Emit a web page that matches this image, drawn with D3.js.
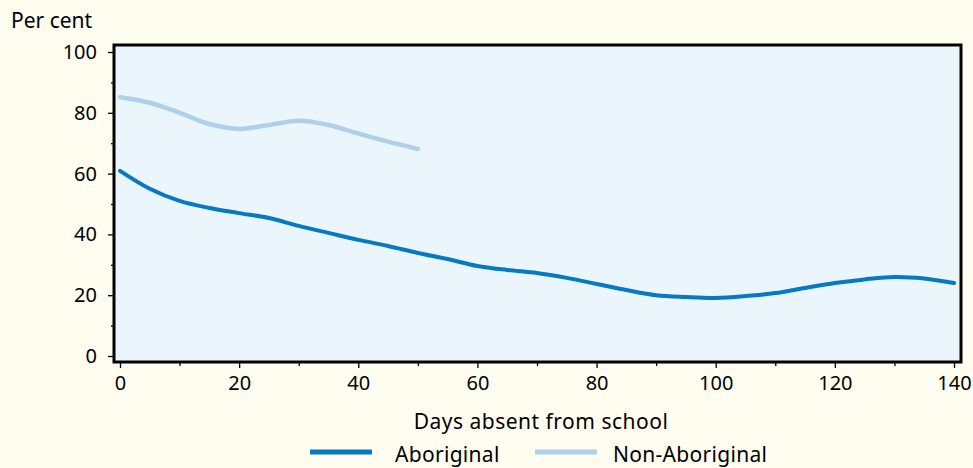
<!DOCTYPE html>
<html><head><meta charset="utf-8">
<script src="https://cdn.jsdelivr.net/npm/d3@7/dist/d3.min.js"></script>
<style>html,body{margin:0;padding:0;background:#FEFDF0;}svg{display:block;font-family:"Noto Sans",sans-serif;}</style>
</head><body>
<svg id="c" width="973" height="468"></svg>
<script>
const days = [0,5,10,15,20,25,30,35,40,45,50,55,60,65,70,75,80,85,90,95,100,105,110,115,120,125,130,135,140];
const aboriginal = [60.9,55,51,48.7,47,45.4,42.8,40.5,38.2,36.2,33.9,31.9,29.6,28.3,27.3,25.7,23.7,21.7,20,19.4,19.1,19.7,20.7,22.4,24,25.2,26,25.5,24];
const nonDays = [0,5,10,15,20,25,30,35,40,45,50];
const nonAboriginal = [85.1,83.3,80,76.3,74.7,76,77.4,76,73.2,70.5,68.1];
const xTicks = [0,20,40,60,80,100,120,140];
const yTicks = [0,20,40,60,80,100];
const series = ["Aboriginal","Non-Aboriginal"];
const colors = ["#0579C1","#B0D0EA"];

const svg = d3.select("#c");
const x = d3.scaleLinear().domain([0,140]).range([120,954]);
const y = d3.scaleLinear().domain([0,100]).range([356,52]);
const L=114,R=961,T=45,B=362;

svg.append("rect").attr("x",L).attr("y",T).attr("width",R-L).attr("height",B-T).attr("fill","#EAF5FC");

svg.append("g").attr("transform",`translate(${L},0)`)
  .call(d3.axisLeft(y).tickValues(yTicks).tickSize(6).tickPadding(11));
svg.append("g").attr("transform",`translate(${L},0)`)
  .call(d3.axisLeft(y).tickValues(d3.range(10,100,20)).tickSize(3).tickFormat(""));
svg.append("g").attr("transform",`translate(0,${B})`)
  .call(d3.axisBottom(x).tickValues(xTicks).tickSize(6).tickPadding(8));
svg.append("g").attr("transform",`translate(0,${B})`)
  .call(d3.axisBottom(x).tickValues(d3.range(10,140,20)).tickSize(4).tickFormat(""));
svg.selectAll(".domain").remove();
svg.selectAll(".tick line").attr("stroke","#000").attr("stroke-width",1.3);
svg.selectAll(".tick text").attr("font-size",20).attr("fill","#000").attr("font-family","Noto Sans");

const line = d3.line().x(d=>x(d[0])).y(d=>y(d[1])).curve(d3.curveCatmullRom);
svg.append("path").datum(nonDays.map((d,i)=>[d,nonAboriginal[i]])).attr("d",line)
  .attr("fill","none").attr("stroke",colors[1]).attr("stroke-width",4.5).attr("stroke-linecap","round");
svg.append("path").datum(days.map((d,i)=>[d,aboriginal[i]])).attr("d",line)
  .attr("fill","none").attr("stroke",colors[0]).attr("stroke-width",4).attr("stroke-linecap","round");

svg.append("rect").attr("x",L).attr("y",T).attr("width",R-L).attr("height",B-T).attr("fill","none").attr("stroke","#000").attr("stroke-width",3);

svg.append("text").attr("x",11).attr("y",28).attr("font-size",21).text("Per cent");
svg.append("text").attr("x",541).attr("y",429).attr("text-anchor","middle").attr("font-size",21).attr("letter-spacing",0.5).text("Days absent from school");

const lg = [[310,395],[535,613]];
series.forEach((s,i)=>{
  svg.append("line").attr("x1",lg[i][0]).attr("x2",lg[i][0]+62).attr("y1",452).attr("y2",452)
    .attr("stroke",colors[i]).attr("stroke-width",5);
  svg.append("text").attr("x",lg[i][1]).attr("y",462).attr("font-size",21).attr("letter-spacing",0.3).text(s);
});
</script>
</body></html>
